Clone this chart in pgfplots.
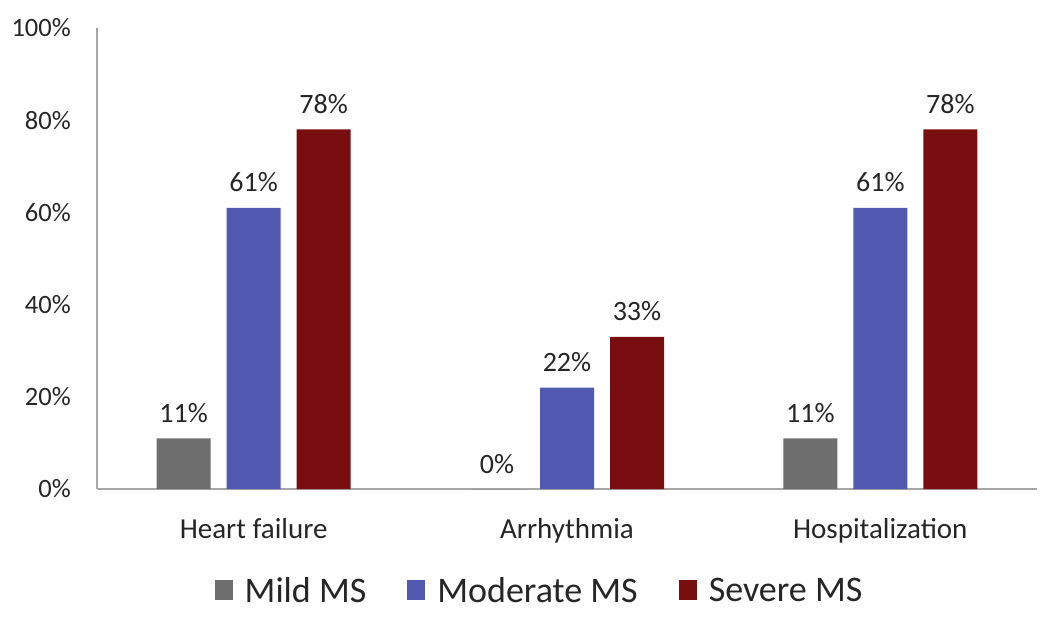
\documentclass[border=0pt]{standalone}
\usepackage{fontspec}
\setmainfont{Carlito}
\usepackage{pgfplots}
\pgfplotsset{compat=1.18}
\definecolor{cgray}{HTML}{6E6E6E}
\definecolor{cblue}{HTML}{5058B0}
\definecolor{cred}{HTML}{780E10}
\definecolor{ctext}{HTML}{262626}
\definecolor{caxis}{HTML}{A6A6A6}
\begin{document}
\begin{tikzpicture}
\begin{axis}[
  scale only axis, width=940pt, height=461pt,
  at={(0pt,0pt)}, anchor=south west,
  ybar, bar width=54pt,
  ymin=0, ymax=100, xmin=-0.5, xmax=2.5,
  xtick={0,1,2}, xticklabels={Heart failure, Arrhythmia, Hospitalization},
  ytick={0,20,40,60,80,100}, yticklabels={0\%,20\%,40\%,60\%,80\%,100\%},
  axis x line=bottom, axis y line=left,
  axis line style={-, draw=caxis, line width=2pt},
  major tick length=0pt, tick style={draw=none},
  yticklabel style={font=\fontsize{26.5}{30}\selectfont, text=ctext, anchor=east, inner sep=0pt, xshift=-26pt},
  xticklabel style={font=\fontsize{29}{33}\selectfont, text=ctext, anchor=base, inner sep=0pt, yshift=-49pt},
  nodes near coords={\pgfmathprintnumber{\pgfplotspointmeta}\%},
  nodes near coords style={font=\fontsize{28}{32}\selectfont, text=ctext, anchor=base, inner sep=0pt, yshift=16pt},
  /pgf/number format/assume math mode=true,
  legend columns=3,
  legend style={draw=none, at={(0.4697,-0.2213)}, anchor=center,
    font=\fontsize{36}{40}\selectfont, text=ctext, nodes={inner sep=0pt},
    /tikz/every odd column/.append style={column sep=12pt},
    /tikz/every even column/.append style={column sep=41pt}},
  legend image code/.code={\fill[#1] (0pt,-9pt) rectangle (18pt,11pt);},
]
\addplot[fill=cgray, draw=none, bar shift=-70pt] coordinates {(0,11) (1,0) (2,11)};
\addplot[fill=cblue, draw=none, bar shift=0pt] coordinates {(0,61) (1,22) (2,61)};
\addplot[fill=cred, draw=none, bar shift=70pt] coordinates {(0,78) (1,33) (2,78)};
\legend{Mild MS, Moderate MS, Severe MS}
\end{axis}
\pgfresetboundingbox
\useasboundingbox (-97pt,-130pt) rectangle (953pt,489pt);
\end{tikzpicture}
\end{document}
